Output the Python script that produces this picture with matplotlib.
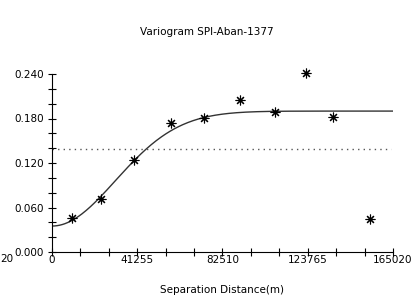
import numpy as np
from matplotlib import pyplot as plt
from matplotlib.ticker import MultipleLocator

# experimental variogram points
lag = [9680, 23710, 39680, 57590, 73560, 90980, 107900, 122900, 135990, 153890]
gamma = [0.0458, 0.0715, 0.124, 0.174, 0.181, 0.205, 0.189, 0.241, 0.182, 0.0445]

# gaussian model
nugget = 0.035
sill = 0.190
model_range = 75000
variance = 0.139

x_ticks = [0, 41255, 82510, 123765, 165020]
y_ticks = [0.0, 0.06, 0.12, 0.18, 0.24]

fig = plt.figure(figsize=(4.14, 2.96), dpi=100)
ax = fig.add_axes([52/414, 44/296, 341/414, 178/296])

h = np.linspace(0, 165020, 400)
model = nugget + (sill - nugget) * (1 - np.exp(-3 * h**2 / model_range**2))
ax.plot(h, model, color='#333333', lw=1.0)
ax.plot([0, 164000], [variance, variance], color='#555555', lw=1.0, ls=(0, (1, 3)))
ax.plot(lag, gamma, ls='none', marker=(8, 2, 0), ms=7, mec='black', mew=0.8, clip_on=False)

ax.set_xlim(0, 165020)
ax.set_ylim(0, 0.24)
ax.set_xticks(x_ticks)
ax.set_xticklabels([str(t) for t in x_ticks])
ax.set_yticks(y_ticks)
ax.set_yticklabels(['%.3f' % t for t in y_ticks])
ax.xaxis.set_minor_locator(MultipleLocator(165020 / 12))
ax.yaxis.set_minor_locator(MultipleLocator(0.02))
for s in ['top', 'right']:
    ax.spines[s].set_visible(False)
ax.tick_params(which='both', direction='inout', length=6, width=0.8, labelsize=7.5)
ax.tick_params(axis='y', pad=3)
ax.tick_params(axis='x', pad=-0.5)

fig.text(207/414, 1 - 32/296, 'Variogram SPI-Aban-1377', ha='center', va='center', fontsize=7.5)
fig.text(222/414, 1 - 290/296, 'Separation Distance(m)', ha='center', va='center', fontsize=7.5)
fig.text(0, 1 - 259/296, '20', ha='left', va='center', fontsize=7.5)

plt.savefig('out.png', dpi=100)
